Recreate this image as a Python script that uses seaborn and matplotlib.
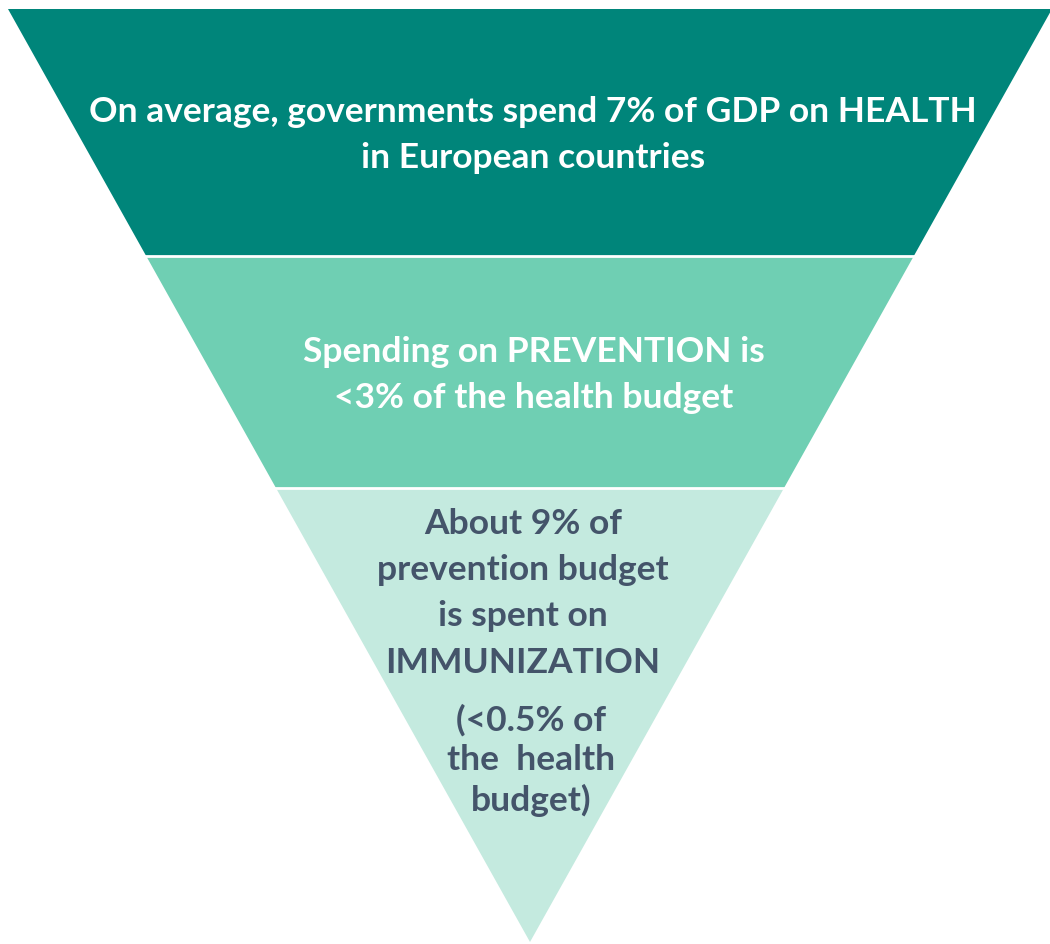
import matplotlib
matplotlib.use("Agg")
import matplotlib.pyplot as plt
import seaborn as sns
import numpy as np

# --- content ---
stage_names = ["Health", "Prevention", "Immunization"]
stage_colors = ["#00857a", "#6fcfb3", "#c4eadf"]
stage_text_colors = ["#ffffff", "#ffffff", "#44546a"]
stage_texts = [
    ["On average, governments spend 7% of GDP on HEALTH", "in European countries"],
    ["Spending on PREVENTION is", "<3% of the health budget"],
    ["About 9% of", "prevention budget", "is spent on", "IMMUNIZATION"],
]
note_lines = ["(<0.5% of", "the  health", "budget)"]

# --- layout (pixels) ---
W, H = 1050, 945
top_y, apex_y = 10, 943
top_left, top_right = 8, 1052
apex_x = 530
bounds = [top_y, 257, 489, apex_y]

sns.set_theme(style="white")
plt.rcParams['font.family'] = ['Lato', 'DejaVu Sans']

fig = plt.figure(figsize=(W / 100, H / 100), dpi=100)
ax = fig.add_axes([0, 0, 1, 1])
ax.set_xlim(0, W)
ax.set_ylim(H, 0)
ax.axis("off")

def xl(y):
    return top_left + (apex_x - top_left) * (y - top_y) / (apex_y - top_y)

def xr(y):
    return top_right + (apex_x - top_right) * (y - top_y) / (apex_y - top_y)

for i in range(3):
    y0, y1 = bounds[i], bounds[i + 1]
    ax.fill([xl(y0), xr(y0), xr(y1), xl(y1)], [y0, y0, y1, y1],
            color=stage_colors[i], lw=0)
for yb in bounds[1:3]:
    ax.plot([xl(yb) - 5, xr(yb) + 5], [yb, yb], color="white", lw=2)

fs = 25.5
text_pos = [(533, [112, 158]), (534, [352, 398]), (523, [524, 570, 616, 663])]
for i, (cx, ys) in enumerate(text_pos):
    for line, y in zip(stage_texts[i], ys):
        ax.text(cx, y, line, ha="center", va="center", fontsize=fs,
                fontweight="bold", color=stage_text_colors[i])
for line, y in zip(note_lines, [720, 760, 800]):
    ax.text(531, y, line, ha="center", va="center", fontsize=fs,
            fontweight="bold", color=stage_text_colors[2])

fig.savefig("out.png", dpi=100, facecolor="white")
